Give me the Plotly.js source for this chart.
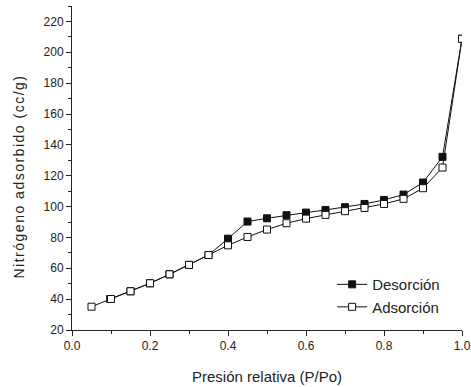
<!DOCTYPE html>
<html><head><meta charset="utf-8">
<script src="https://cdn.plot.ly/plotly-3.0.1.min.js"></script>
<style>html,body{margin:0;padding:0;background:#fff}#plot{width:471px;height:387px}</style>
</head><body><div id="plot"></div>
<script>
var desX = [0.098, 0.15, 0.2, 0.25, 0.3, 0.35, 0.4, 0.45, 0.5, 0.55, 0.6, 0.65, 0.7, 0.75, 0.8, 0.85, 0.9, 0.95, 1.0];
var desY = [40.1, 45.1, 50.3, 56.1, 62.2, 68.6, 79.2, 90.3, 92.4, 94.4, 96.1, 97.8, 99.6, 101.7, 104.3, 107.8, 115.6, 132.2, 208.8];
var adsX = [0.05, 0.1, 0.15, 0.2, 0.25, 0.3, 0.35, 0.4, 0.45, 0.5, 0.55, 0.6, 0.65, 0.7, 0.75, 0.8, 0.85, 0.9, 0.95, 1.0];
var adsY = [35.1, 40.1, 45.1, 50.3, 56.1, 62.2, 68.6, 74.9, 80.3, 85.1, 89.2, 92.2, 94.6, 97.0, 99.1, 101.7, 105.0, 111.9, 125.3, 208.8];
var xTicks = [0.0, 0.2, 0.4, 0.6, 0.8, 1.0];
var xTickText = ['0.0', '0.2', '0.4', '0.6', '0.8', '1.0'];
var yTicks = [20, 40, 60, 80, 100, 120, 140, 160, 180, 200, 220];

var fam = 'Liberation Sans, Arial, sans-serif';
var tickFont = {family: fam, color: '#222', size: 12};
var traces = [
  {x: desX, y: desY, name: 'Desorción', mode: 'lines+markers', type: 'scatter',
   line: {color: '#111', width: 1},
   marker: {symbol: 'square', size: 7, color: '#111', line: {color: '#111', width: 1}}},
  {x: adsX, y: adsY, name: 'Adsorción', mode: 'lines+markers', type: 'scatter',
   line: {color: '#111', width: 1},
   marker: {symbol: 'square', size: 7, color: '#fff', line: {color: '#111', width: 1}}}
];
var layout = {
  width: 471, height: 387,
  margin: {l: 72, r: 9, t: 6, b: 57},
  paper_bgcolor: '#fff', plot_bgcolor: '#fff',
  font: tickFont,
  showlegend: true,
  legend: {x: 0.667, y: 0.191, xanchor: 'left', yanchor: 'top', bgcolor: 'rgba(0,0,0,0)',
           font: {family: fam, size: 15, color: '#222'},
           tracegroupgap: 0, itemwidth: 30},
  xaxis: {range: [0, 1], tickmode: 'array', tickvals: xTicks, ticktext: xTickText,
          ticks: 'outside', ticklen: 5, tickwidth: 1, tickcolor: '#222',
          minor: {dtick: 0.1, ticks: 'outside', ticklen: 3, tickcolor: '#222'},
          showline: true, linecolor: '#222', linewidth: 1, showgrid: false, zeroline: false,
          tickfont: tickFont,
          title: {text: 'Presión relativa (P/Po)', font: {family: fam, size: 15, color: '#222'}, standoff: 19}},
  yaxis: {range: [20, 230], tickmode: 'array', tickvals: yTicks,
          ticks: 'outside', ticklen: 5, tickwidth: 1, tickcolor: '#222',
          minor: {dtick: 10, ticks: 'outside', ticklen: 3, tickcolor: '#222'},
          showline: true, linecolor: '#222', linewidth: 1, showgrid: false, zeroline: false,
          tickfont: tickFont},
  annotations: [{text: 'Nitrógeno adsorbido (cc/g)', textangle: -90, showarrow: false,
                 xref: 'paper', yref: 'paper', x: 0, y: 0.5, xanchor: 'center', yanchor: 'middle',
                 xshift: -53, yshift: -9,
                 font: {family: fam, size: 14, color: '#222'}}]
};
Plotly.newPlot('plot', traces, layout, {displayModeBar: false, staticPlot: true}).then(function (gd) {
  var t = gd.querySelectorAll('.annotation-text');
  t.forEach(function (el) { el.style.letterSpacing = '1.5px'; });
});
</script></body></html>
